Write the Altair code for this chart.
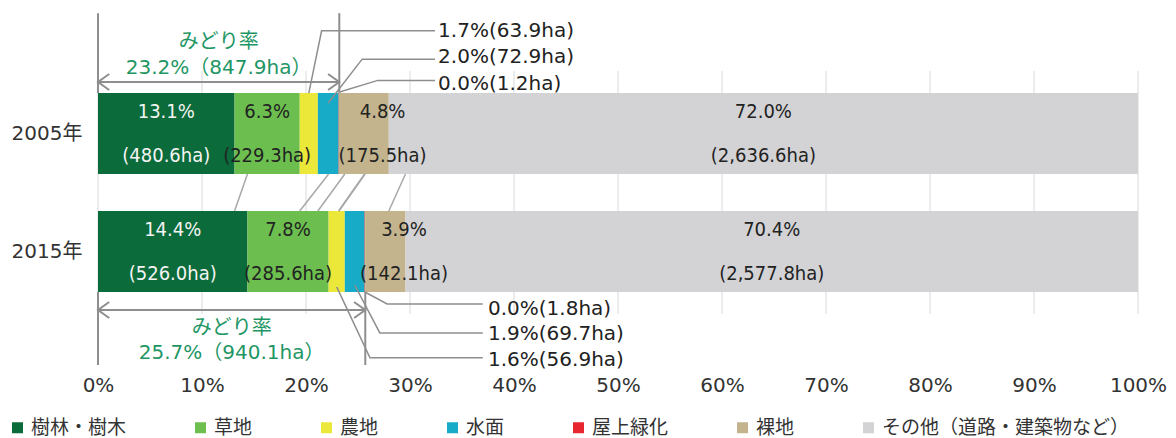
import altair as alt
import pandas as pd

# ---------------- data ----------------
years = ["2005年", "2015年"]
categories = ["樹林・樹木", "草地", "農地", "水面", "屋上緑化", "裸地", "その他（道路・建築物など）"]
colors = ["#0b6b3a", "#6cbf4f", "#ece83a", "#17abc7", "#e8262f", "#c3b48e", "#d3d3d5"]
area_2005 = [480.6, 229.3, 63.9, 72.9, 1.2, 175.5, 2636.6]
area_2015 = [526.0, 285.6, 56.9, 69.7, 1.8, 142.1, 2577.8]
pct_2005 = [13.1, 6.3, 1.7, 2.0, 0.0, 4.8, 72.0]
pct_2015 = [14.4, 7.8, 1.6, 1.9, 0.0, 3.9, 70.4]
midori_label = "みどり率"
midori_pct = [23.2, 25.7]
midori_area = [847.9, 940.1]
tick_values = [0, 10, 20, 30, 40, 50, 60, 70, 80, 90, 100]

areas = [area_2005, area_2015]
pcts = [pct_2005, pct_2015]

# ---------------- layout (row units: 0 = 2005 bar centre, 1 = 2015 bar centre) ----------------
FONT = "'DejaVu Sans', 'Noto Sans CJK JP', sans-serif"
COND = "'DejaVu Sans Condensed', 'Noto Sans CJK JP', sans-serif"
GREEN_TXT = "#1e9664"
LINE_GRAY = "#8e8e8e"
Y_DOMAIN = [-1.0636, 2.0212]
BAR_HALF = 0.343
GRID_Y = (-0.53, 1.53)
LABEL_DY = (-0.185, 0.19)
LABEL_SHIFT = {"裸地": 1.8}
MIN_INSIDE = 3.0
YEAR_LABEL_X = -1.5
BRACKET = [  # (outer y end, arrow y, title y, value y)
    (-1.02, -0.436, -0.775, -0.555),
    (1.962, 1.496, 1.648, 1.86),
]
LEADERS = [  # (year, category, start y, elbow x, elbow y, end x, text x, text y)
    (0, 2, -0.343, 21.5, -0.87, 32.4, 32.7, -0.87),
    (0, 3, -0.258, 25.4, -0.63, 32.4, 32.7, -0.645),
    (0, 4, -0.35, 26.9, -0.45, 32.4, 32.7, -0.42),
    (1, 4, 1.343, 27.8, 1.445, 37.0, 37.5, 1.49),
    (1, 3, 1.284, 27.1, 1.69, 37.0, 37.5, 1.70),
    (1, 2, 1.30, 26.15, 1.9, 37.0, 37.5, 1.92),
]

# ---------------- tables ----------------
rows, edges = [], []
for yi, (ar, pc) in enumerate(zip(areas, pcts)):
    total = sum(ar)
    start = 0.0
    e = []
    for cat, a, p in zip(categories, ar, pc):
        end = start + a / total * 100
        mid = (start + end) / 2
        rows.append(dict(year=years[yi], yi=yi, category=cat, start=start, end=end, mid=mid,
                         lx=mid + LABEL_SHIFT.get(cat, 0.0), pct=p, area=a,
                         y0=yi - BAR_HALF, y1=yi + BAR_HALF,
                         ly_p=yi + LABEL_DY[0], ly_a=yi + LABEL_DY[1],
                         pct_text=f"{p:.1f}%", area_text=f"({a:,.1f}ha)"))
        e.append(end)
        start = end
    edges.append(e)
bars = pd.DataFrame(rows)
inside = bars[bars["pct"] >= MIN_INSIDE]

grid_df = pd.DataFrame({"x": tick_values, "y0": GRID_Y[0], "y1": GRID_Y[1]})

# Excel-style series lines between the two bars
series_df = pd.DataFrame([
    dict(xa=edges[1][k], xb=edges[0][k], ya=0 + BAR_HALF, yb=1 - BAR_HALF)
    for k in range(len(categories) - 1)
])

br_rules, heads, br_text = [], [], []
for yi, (p, a) in enumerate(zip(midori_pct, midori_area)):
    outer, arrow_y, t1, t2 = BRACKET[yi]
    edge = yi - BAR_HALF if yi == 0 else yi + BAR_HALF
    br_rules += [dict(xa=0, xb=0, ya=outer, yb=edge), dict(xa=p, xb=p, ya=outer, yb=edge),
                 dict(xa=0, xb=p, ya=arrow_y, yb=arrow_y)]
    heads += [dict(x=0, y=arrow_y, dir="left"), dict(x=p, y=arrow_y, dir="right")]
    br_text += [dict(x=p / 2, y=t1, text=midori_label),
                dict(x=p / 2, y=t2, text=f"{p:.1f}%（{a:,.1f}ha）")]
br_rules = pd.DataFrame(br_rules)
heads = pd.DataFrame(heads)
br_text = pd.DataFrame(br_text)

lead_pts, lead_txt = [], []
for i, (yi, ci, sy, ex, ey, endx, tx, ty) in enumerate(LEADERS):
    r = bars[(bars.yi == yi) & (bars.category == categories[ci])].iloc[0]
    lead_pts += [dict(id=i, k=0, x=r["mid"], y=sy), dict(id=i, k=1, x=ex, y=ey),
                 dict(id=i, k=2, x=endx, y=ey)]
    lead_txt.append(dict(x=tx, y=ty, text=f"{r['pct']:.1f}%({r['area']:,.1f}ha)"))
lead_pts = pd.DataFrame(lead_pts)
lead_txt = pd.DataFrame(lead_txt)

year_df = pd.DataFrame({"year": years, "yi": [0, 1], "x": YEAR_LABEL_X})

# ---------------- encodings ----------------
X_SCALE = alt.Scale(domain=[0, 100], nice=False, zero=False)
X_AXIS = alt.Axis(values=tick_values, labelExpr="datum.value + '%'", domain=False, ticks=False,
                  grid=False, labelFontSize=20, labelColor="#333333", labelFont=FONT,
                  labelPadding=3, labelFlush=False, labelOverlap=False, title=None)
Y_SCALE = alt.Scale(domain=Y_DOMAIN, reverse=True, nice=False, zero=False)


def X(f):
    return alt.X(f"{f}:Q", scale=X_SCALE, axis=X_AXIS)


def Y(f):
    return alt.Y(f"{f}:Q", scale=Y_SCALE, axis=None)


grid = alt.Chart(grid_df).mark_rule(color="#d9d9d9", strokeWidth=1).encode(
    x=X("x"), y=Y("y0"), y2="y1")

bar = alt.Chart(bars).mark_bar(strokeWidth=0).encode(
    x=X("start"), x2="end", y=Y("y0"), y2="y1",
    color=alt.Color("category:N", scale=alt.Scale(domain=categories, range=colors),
                    legend=alt.Legend(orient="none", legendX=-90, legendY=410, direction="horizontal",
                                      columns=7, columnPadding=64, symbolType="square", symbolSize=121,
                                      symbolStrokeWidth=0, labelFontSize=19, labelFont=FONT,
                                      labelColor="#333333", labelLimit=400, title=None, padding=0,
                                      labelOffset=4)))

txt_color = alt.condition(alt.datum.category == categories[0], alt.value("#f4f4f4"), alt.value("#222222"))
lab_p = alt.Chart(inside).mark_text(fontSize=20, font=COND, baseline="middle").encode(
    x=X("lx"), y=Y("ly_p"), text="pct_text:N", color=txt_color)
lab_a = alt.Chart(inside).mark_text(fontSize=20, font=COND, baseline="middle").encode(
    x=X("lx"), y=Y("ly_a"), text="area_text:N", color=txt_color)

series = alt.Chart(series_df).mark_rule(color="#a8a8a8", strokeWidth=1.5).encode(
    x=X("xa"), x2="xb", y=Y("ya"), y2="yb")

brackets = alt.Chart(br_rules).mark_rule(color=LINE_GRAY, strokeWidth=2).encode(
    x=X("xa"), x2="xb", y=Y("ya"), y2="yb")

arrow_heads = alt.Chart(heads).mark_point(filled=False, size=256, strokeWidth=2, color=LINE_GRAY,
                                          opacity=1).encode(
    x=X("x"), y=Y("y"),
    shape=alt.Shape("dir:N", scale=alt.Scale(domain=["left", "right"],
                                             range=["M1.4,-1L0,0L1.4,1", "M-1.4,-1L0,0L-1.4,1"]),
                    legend=None))

bracket_text = alt.Chart(br_text).mark_text(fontSize=20, font=FONT, color=GREEN_TXT,
                                            baseline="middle").encode(
    x=X("x"), y=Y("y"), text="text:N")

leaders = alt.Chart(lead_pts).mark_line(color=LINE_GRAY, strokeWidth=1.5).encode(
    x=X("x"), y=Y("y"), detail="id:N", order=alt.Order("k:Q"))

leader_text = alt.Chart(lead_txt).mark_text(fontSize=20, font=FONT, color="#222222", align="left",
                                            baseline="middle").encode(
    x=X("x"), y=Y("y"), text="text:N")

year_text = alt.Chart(year_df).mark_text(fontSize=20, font=FONT, color="#333333", align="right",
                                         baseline="middle").encode(
    x=X("x"), y=Y("yi"), text="year:N")

chart = alt.layer(
    grid, bar, lab_p, lab_a, series, brackets, arrow_heads, leaders, bracket_text, leader_text, year_text
).properties(
    width=1040, height=364,
    autosize=alt.AutoSizeParams(type="none"),
    padding={"left": 90, "top": 0, "right": 30, "bottom": 66},
).configure_view(stroke=None)

chart.save("out.html", embed_options={"renderer": "svg", "actions": False})
